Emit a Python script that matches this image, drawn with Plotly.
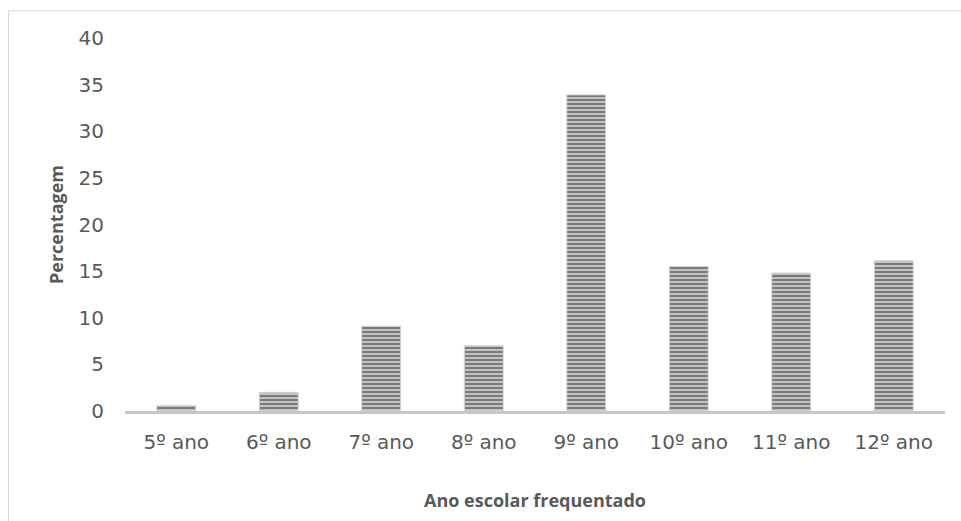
import plotly.graph_objects as go

# Distribuição dos alunos por ano escolar frequentado (%)
anos = ["5º ano", "6º ano", "7º ano", "8º ano", "9º ano", "10º ano", "11º ano", "12º ano"]
percentagem = [0.6, 2.0, 9.1, 7.0, 33.9, 15.5, 14.8, 16.1]
y_ticks = [0, 5, 10, 15, 20, 25, 30, 35, 40]

TICK_FONT = "DejaVu Sans"
TITLE_FONT = "Open Sans"
TEXT = "#595959"

fig = go.Figure()
fig.add_trace(go.Bar(
    x=anos,
    y=percentagem,
    width=0.38,
    marker=dict(
        color="#b4b4b4",
        line=dict(color="#d6d6d6", width=1),
        pattern=dict(shape="-", fgcolor="#737373", bgcolor="#c2c2c2",
                     size=4, solidity=0.45, fillmode="replace"),
    ),
    hovertemplate="%{x}: %{y}%<extra></extra>",
))

fig.update_layout(
    width=961, height=521,
    margin=dict(l=125, r=16, t=38, b=108),
    paper_bgcolor="white",
    plot_bgcolor="white",
    showlegend=False,
    font=dict(family=TICK_FONT, color=TEXT, size=20),
    xaxis=dict(
        showgrid=False,
        showline=True, linecolor="#c6c6c6", linewidth=3,
        ticks="", tickfont=dict(family=TICK_FONT, size=20, color=TEXT),
        ticklabelstandoff=11,
        title=dict(text="<b>Ano escolar frequentado</b>",
                   font=dict(family=TITLE_FONT, size=18, color=TEXT), standoff=42),
    ),
    yaxis=dict(
        range=[0, 40],
        tickvals=y_ticks,
        showgrid=False, zeroline=False, showline=False,
        ticks="", tickfont=dict(family=TICK_FONT, size=20, color=TEXT),
        ticklabelstandoff=20,
        title=dict(text="<b>Percentagem</b>",
                   font=dict(family=TITLE_FONT, size=18, color=TEXT), standoff=10),
    ),
    shapes=[
        # chart-area frame (left and top edges)
        dict(type="line", xref="paper", yref="paper",
             x0=(8.5 - 125) / 820, x1=(8.5 - 125) / 820,
             y0=(413 - 530) / 375, y1=(413 - 10.5) / 375,
             line=dict(color="#d9d9d9", width=1)),
        dict(type="line", xref="paper", yref="paper",
             x0=(8.5 - 125) / 820, x1=(970 - 125) / 820,
             y0=(413 - 10.5) / 375, y1=(413 - 10.5) / 375,
             line=dict(color="#d9d9d9", width=1)),
    ],
)

fig.write_html("out.html")
